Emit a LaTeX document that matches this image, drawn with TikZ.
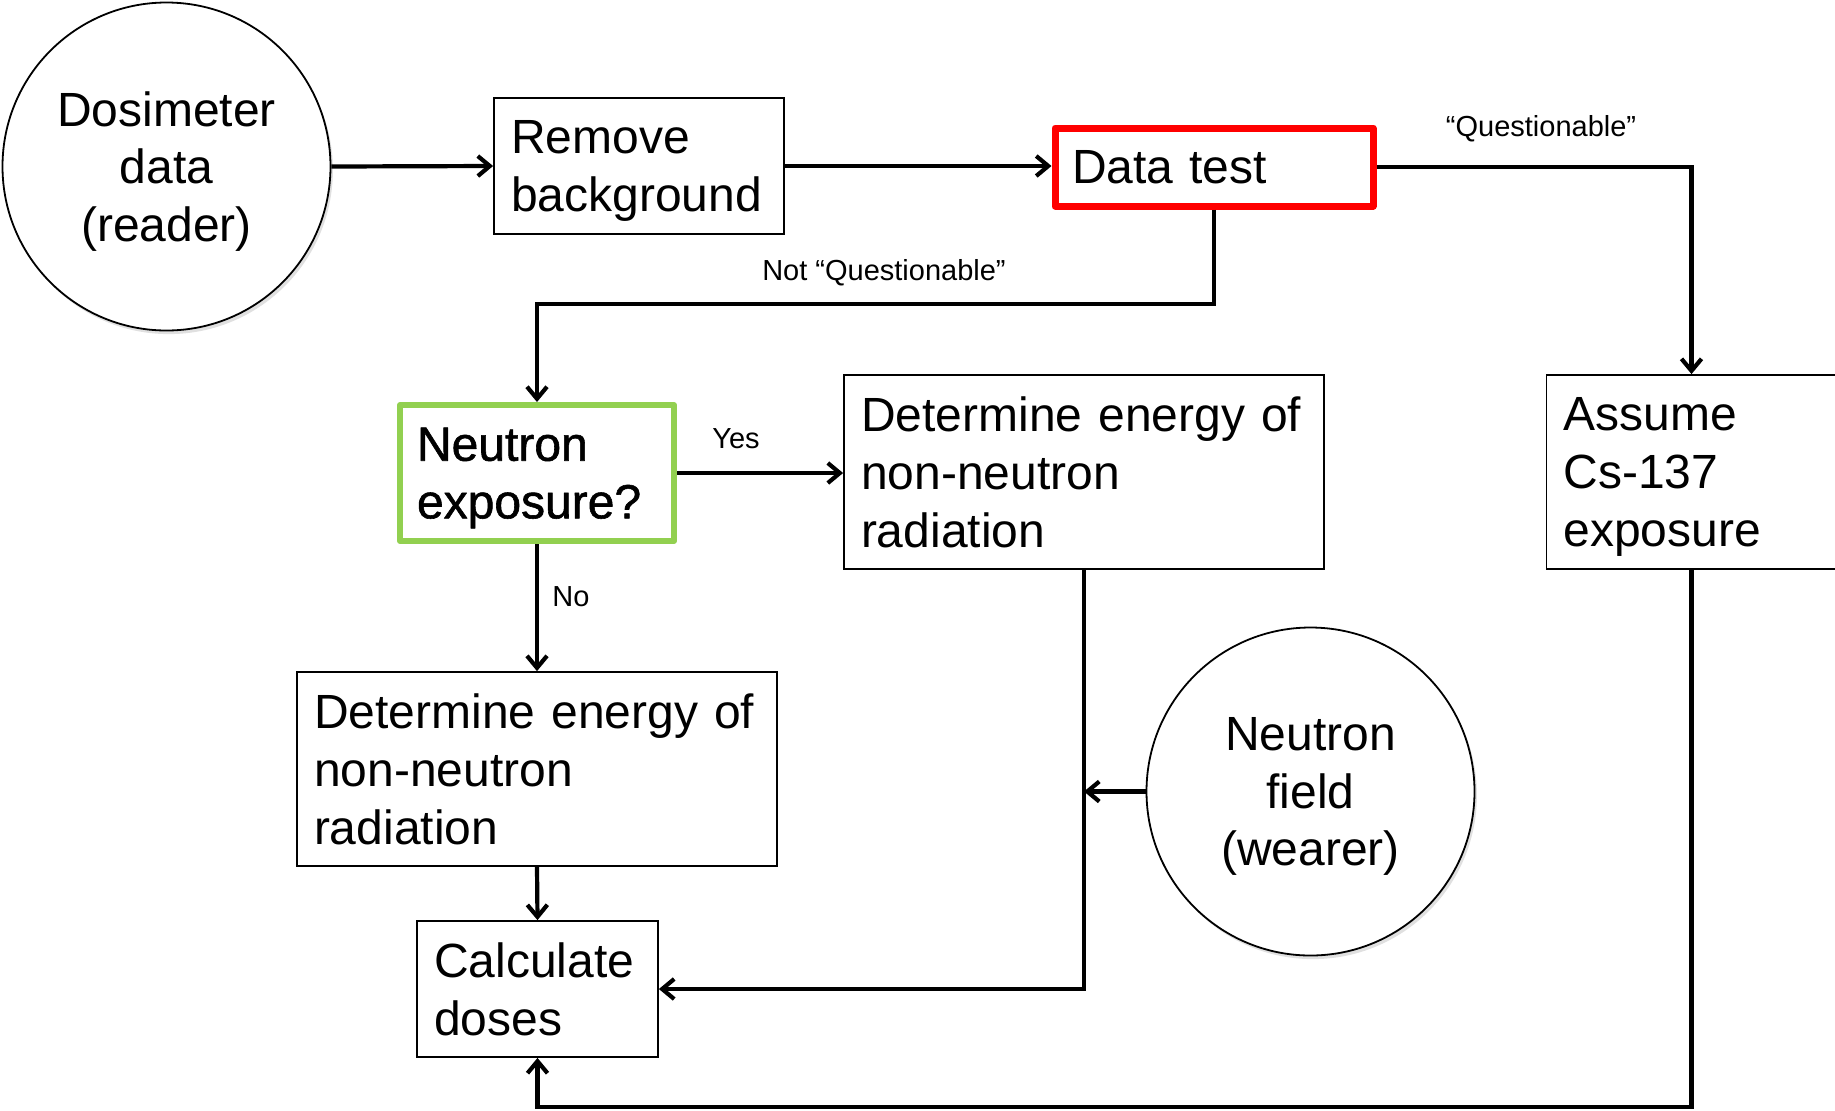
\documentclass[tikz,border=0pt]{standalone}
\usepackage{fontspec}
\setmainfont{Liberation Sans}
\newfontfamily\heavyfont[FakeBold=1.2]{Liberation Sans}
\usetikzlibrary{arrows.meta,shadows}
\definecolor{testred}{RGB}{255,0,0}
\definecolor{decgreen}{RGB}{146,208,80}
\begin{document}
\begin{tikzpicture}[x=0.5pt,y=-0.5pt,
  box/.style={draw=black, line width=0.9pt, fill=white, inner xsep=8.5pt, inner ysep=0pt,
    align=left, font=\fontsize{24}{28.8}\selectfont},
  one line/.style={text depth=0pt},
  two lines/.style={text depth=28.8pt},
  three lines/.style={text depth=57.6pt},
  source/.style={circle, draw=black, line width=0.9pt, fill=white, inner sep=0pt,
    minimum size=164pt, align=center, text depth=0pt, font=\fontsize{24}{28.8}\selectfont,
    drop shadow={shadow xshift=1.2pt, shadow yshift=-1.8pt, opacity=0.22, fill=black!55}},
  conn/.style={line width=2.1pt, -{Straight Barb[length=6pt,width=10pt]}},
  lbl/.style={font=\fontsize{14.5}{17}\selectfont, inner sep=0pt}
]
\useasboundingbox (0,0) rectangle (1835,1110);
\clip (0,0) rectangle (1835,1110);

% sources
\node[source] (dos) at (166.5,166.5) {Dosimeter\\data\\(reader)};
\node[source] (nf) at (1310.5,791.5) {Neutron\\field\\(wearer)};

% process boxes
\node[box, two lines, minimum width=145pt, minimum height=68pt, text width=128pt] (rb) at (639,166) {Remove\\background};
\node[box, one line, draw=testred, line width=3.5pt, line join=round, minimum width=159pt, minimum height=39pt, text width=142pt] (dt) at (1214,167) {Data test};
\node[box, two lines, draw=decgreen, line width=3pt, line join=round, minimum width=137pt, minimum height=68pt, text width=120pt,
  font=\heavyfont\fontsize{24}{28.8}\selectfont] (ne) at (537,473) {Neutron\\exposure?};
\node[box, three lines, minimum width=240pt, minimum height=97pt, text width=223pt] (dr) at (1084,472) {Determine energy of\\non-neutron\\radiation};
\node[box, three lines, minimum width=240pt, minimum height=97pt, text width=223pt] (dl) at (537,769) {Determine energy of\\non-neutron\\radiation};
\node[box, two lines, minimum width=120.5pt, minimum height=68pt, text width=103.5pt] (calc) at (537.5,989) {Calculate\\doses};
\node[box, three lines, minimum width=145pt, minimum height=97pt, text width=128pt] (asm) at (1691.5,472) {Assume\\Cs-137\\exposure};

% branch labels
\node[lbl] (lq) at (1541,129) {“Questionable”};
\node[lbl] (lnq) at (884,273) {Not “Questionable”};
\node[lbl] (lyes) at (736,439) {Yes};
\node[lbl] (lno) at (571,597) {No};

% routing points
\coordinate (split) at (900,304);
\coordinate (floor) at (1100,1107);

% connectors
\draw[conn] (dos.east) -- (rb.west);
\draw[conn] (rb.east) -- (rb.east -| dt.west);
\draw[conn] (dt.east) -| (asm.north);
\draw[conn] (dt.south) -- (dt.south |- split) -| (ne.north);
\draw[conn] (ne.east) -- (ne.east -| dr.west);
\draw[conn] (ne.south) -- (dl.north);
\draw[conn] (dl.south) -- (calc.north);
\draw[conn] (dr.south) |- (calc.east);
\draw[conn] (nf.west) -- (nf.west -| dr.south);
\draw[conn] (asm.south) -- (asm.south |- floor) -| (calc.south);
\end{tikzpicture}
\end{document}
